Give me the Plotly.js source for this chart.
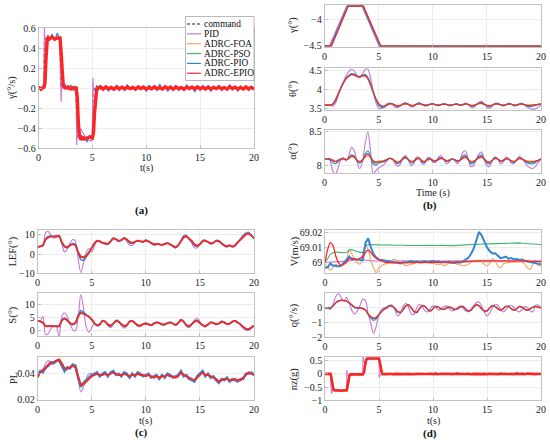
<!DOCTYPE html>
<html><head><meta charset="utf-8">
<script src="https://cdn.plot.ly/plotly-3.0.1.min.js"></script>
<style>html,body{margin:0;padding:0;background:#fff}#chart{width:550px;height:444px}</style>
</head><body><div id="chart"></div>
<script>
// ---------- names ----------
const seriesNames=['PID','ADRC-FOA','ADRC-PSO','ADRC-PIO','ADRC-EPIO'];
const commandName='command';
const xTicks=[0,5,10,15,20];

// ---------- common time grid (0.25 s) ----------
const T=[0,0.25,0.5,0.75,1,1.25,1.5,1.75,2,2.25,
2.5,2.75,3,3.25,3.5,3.75,4,4.25,4.5,4.75,
5,5.25,5.5,5.75,6,6.25,6.5,6.75,7,7.25,
7.5,7.75,8,8.25,8.5,8.75,9,9.25,9.5,9.75,
10,10.25,10.5,10.75,11,11.25,11.5,11.75,12,12.25,
12.5,12.75,13,13.25,13.5,13.75,14,14.25,14.5,14.75,
15,15.25,15.5,15.75,16,16.25,16.5,16.75,17,17.25,
17.5,17.75,18,18.25,18.5,18.75,19,19.25,19.5,19.75,
20];

// ---------- (a) roll-rate command tracking ----------
const aCmdT=[0,0.5,0.55,0.7,2,2.05,2.3,3.5,3.55,5,5.05,5.3,20];
const aCmd=[0,0,0.45,0.5,0.5,0.03,0,0,-0.5,-0.5,-0.03,0,0];
const aPidT=[0,0.5,0.55,0.6,0.7,0.85,1,2,2.05,2.1,2.15,2.4,3.5,3.55,3.6,3.7,3.9,4.2,4.5,4.9,5,5.05,5.1,5.3,20];
const aPid=[0,0,0.6,0.44,0.45,0.47,0.5,0.5,0.03,-0.14,0.02,0,0,-0.57,-0.42,-0.4,-0.41,-0.46,-0.52,-0.53,-0.5,0.1,-0.03,0,0];
const aFoaT=[0,0.6,0.7,0.8,0.9,2,2.1,2.2,2.3,2.4,3.5,3.6,3.7,3.8,3.9,5,5.1,5.2,5.3,5.4,20];
const aFoa=[0,0,0.3,0.47,0.5,0.5,0.34,0.11,0.02,0,0,-0.1,-0.36,-0.48,-0.5,-0.5,-0.44,-0.23,-0.07,-0.01,0];
const aPso=[0,0.01,0.31,0.48,0.5,0.5,0.33,0.1,0.02,0,0,-0.11,-0.36,-0.49,-0.5,-0.5,-0.43,-0.22,-0.06,0,0];
const aT=[0,0.25,0.5,0.6,0.7,0.8,0.9,1,1.25,1.5,
1.75,2,2.1,2.2,2.3,2.5,2.75,3,3.25,3.5,
3.6,3.7,3.8,3.9,4,4.25,4.5,4.75,5,5.1,
5.2,5.3,5.4,5.5,
5.75,6,6.25,6.5,6.75,7,7.25,7.5,7.75,8,
8.25,8.5,8.75,9,9.25,9.5,9.75,10,10.25,10.5,
10.75,11,11.25,11.5,11.75,12,12.25,12.5,12.75,13,
13.25,13.5,13.75,14,14.25,14.5,14.75,15,15.25,15.5,
15.75,16,16.25,16.5,16.75,17,17.25,17.5,17.75,18,
18.25,18.5,18.75,19,19.25,19.5,19.75,20];
const aPio=[0.02,-0.03,0.02,0.08,0.32,0.5,0.53,0.47,0.54,0.47,
0.55,0.48,0.3,0.08,0.05,0.03,-0.02,0.03,-0.03,0.01,
-0.12,-0.37,-0.52,-0.47,-0.53,-0.48,-0.54,-0.47,-0.52,-0.42,
-0.2,-0.04,0.03,-0.03,
0.03,-0.025,0.02,-0.035,0.015,-0.02,0.03,-0.03,0.01,-0.025,
0.035,-0.015,0.02,-0.03,0.025,-0.02,0.015,-0.035,0.03,-0.01,
0.02,-0.03,0.04,-0.02,0.015,-0.035,0.025,-0.015,0.03,-0.025,
0.01,-0.03,0.035,-0.02,0.02,-0.04,0.015,-0.025,0.03,-0.015,
0.025,-0.035,0.02,-0.01,0.03,-0.03,0.015,-0.025,0.035,-0.02,
0.01,-0.035,0.025,-0.015,0.02,-0.03,0.015,-0.02];
const aEpio=[0.005,-0.01,0.01,0.05,0.3,0.47,0.5,0.49,0.51,0.49,
0.5,0.5,0.35,0.12,0.02,0,0.01,-0.01,0.005,0,
-0.1,-0.35,-0.48,-0.5,-0.49,-0.51,-0.5,-0.49,-0.5,-0.45,
-0.25,-0.08,-0.01,0,
0.01,-0.01,0.012,-0.008,0.005,-0.012,0.01,-0.005,0.008,-0.01,
0.012,-0.006,0.004,-0.011,0.009,-0.004,0.01,-0.012,0.006,-0.008,
0.011,-0.007,0.003,-0.01,0.012,-0.005,0.007,-0.011,0.009,-0.006,
0.004,-0.012,0.01,-0.004,0.008,-0.009,0.012,-0.007,0.005,-0.01,
0.009,-0.012,0.006,-0.005,0.011,-0.008,0.004,-0.01,0.012,-0.006,
0.008,-0.011,0.005,-0.009,0.01,-0.007,0.006,-0.01];

// ---------- (b) gamma ----------
const gPidT=[0,0.45,2.05,3.45,5.05,10,15,20];
const gPid=[-4.5,-4.5,-3.75,-3.75,-4.503,-4.506,-4.508,-4.512];
const gFoaT=[0,0.62,2.18,3.58,5.18,20];
const gFoa=[-4.5,-4.5,-3.75,-3.75,-4.5,-4.503];
const gPsoT=[0,0.6,2.15,3.55,5.15,20];
const gPso=[-4.5,-4.5,-3.75,-3.75,-4.5,-4.503];
const gPioT=[0,0.55,2.12,3.52,5.12,20];
const gPio=[-4.5,-4.5,-3.75,-3.75,-4.5,-4.503];
const gEpioT=[0,0.65,2.2,3.6,5.2,20];
const gEpio=[-4.5,-4.5,-3.75,-3.75,-4.5,-4.503];

// ---------- (b) theta ----------
const thPid=[3.58,3.58,3.57,3.55,3.62,3.82,4.02,4.20,4.36,4.47,
4.52,4.48,4.36,4.30,4.40,4.52,4.53,4.30,3.95,3.65,
3.50,3.49,3.55,3.61,3.63,3.60,3.53,3.51,3.55,3.62,
3.64,3.59,3.53,3.54,3.61,3.64,3.59,3.55,3.56,3.61,
3.62,3.58,3.56,3.59,3.62,3.60,3.56,3.57,3.60,3.61,
3.57,3.58,3.63,3.60,3.53,3.52,3.58,3.65,3.68,3.62,
3.53,3.50,3.55,3.62,3.63,3.58,3.55,3.58,3.63,3.61,
3.56,3.57,3.62,3.63,3.57,3.52,3.49,3.47,3.48,3.53,
3.57];
const thFoa=[3.58,3.58,3.58,3.60,3.71,3.87,4.03,4.17,4.28,4.35,
4.38,4.37,4.34,4.33,4.35,4.35,4.28,4.12,3.92,3.74,
3.61,3.56,3.55,3.58,3.60,3.60,3.58,3.57,3.58,3.60,
3.61,3.60,3.58,3.58,3.60,3.61,3.60,3.58,3.58,3.60,
3.60,3.59,3.58,3.59,3.60,3.60,3.58,3.58,3.60,3.60,
3.58,3.59,3.61,3.60,3.58,3.58,3.59,3.61,3.62,3.60,
3.58,3.57,3.58,3.60,3.61,3.59,3.58,3.59,3.60,3.60,
3.58,3.58,3.60,3.60,3.59,3.58,3.58,3.58,3.59,3.60,
3.60];
const thPso=[3.58,3.58,3.58,3.61,3.72,3.88,4.04,4.18,4.29,4.36,
4.39,4.38,4.34,4.33,4.36,4.36,4.27,4.10,3.90,3.72,
3.60,3.55,3.55,3.58,3.61,3.61,3.58,3.56,3.57,3.60,
3.62,3.60,3.57,3.57,3.60,3.62,3.60,3.58,3.58,3.60,
3.61,3.59,3.58,3.59,3.61,3.60,3.58,3.58,3.60,3.61,
3.58,3.59,3.61,3.60,3.57,3.57,3.60,3.62,3.63,3.60,
3.57,3.56,3.58,3.61,3.61,3.59,3.58,3.59,3.61,3.60,
3.58,3.58,3.60,3.61,3.59,3.58,3.58,3.58,3.59,3.60,
3.61];
const thPio=[3.58,3.58,3.58,3.59,3.68,3.85,4.02,4.17,4.29,4.37,
4.41,4.40,4.35,4.33,4.37,4.39,4.32,4.15,3.93,3.72,
3.58,3.52,3.52,3.57,3.62,3.62,3.57,3.54,3.56,3.61,
3.63,3.60,3.56,3.56,3.61,3.63,3.60,3.57,3.57,3.60,
3.62,3.59,3.57,3.59,3.61,3.60,3.57,3.58,3.60,3.61,
3.58,3.58,3.62,3.60,3.56,3.55,3.59,3.63,3.65,3.61,
3.56,3.54,3.57,3.61,3.62,3.59,3.57,3.58,3.62,3.61,
3.57,3.57,3.61,3.62,3.59,3.55,3.54,3.55,3.57,3.59,
3.60];
const thEpio=[3.58,3.58,3.58,3.60,3.70,3.86,4.02,4.16,4.27,4.34,
4.38,4.37,4.33,4.32,4.35,4.35,4.28,4.13,3.93,3.75,
3.62,3.56,3.55,3.58,3.61,3.61,3.58,3.56,3.57,3.60,
3.62,3.60,3.57,3.57,3.60,3.61,3.60,3.58,3.58,3.60,
3.61,3.59,3.58,3.59,3.60,3.60,3.58,3.58,3.60,3.60,
3.58,3.59,3.61,3.60,3.57,3.57,3.59,3.62,3.63,3.60,
3.57,3.56,3.58,3.61,3.61,3.59,3.58,3.59,3.61,3.60,
3.58,3.58,3.60,3.61,3.59,3.57,3.57,3.58,3.59,3.60,
3.61];

// ---------- (b) alpha ----------
const alPid=[8.10,8.10,8.08,7.93,7.87,7.97,8.08,8.12,8.07,8.15,
8.27,8.22,8.06,7.96,8.05,8.32,8.50,8.22,7.88,7.93,
7.97,7.99,8.02,8.07,8.11,8.10,8.04,7.99,8.02,8.12,
8.15,8.08,8.00,8.04,8.13,8.12,8.03,8.03,8.12,8.12,
8.05,8.05,8.12,8.15,8.10,8.03,8.05,8.10,8.08,8.03,
8.08,8.19,8.22,8.12,7.99,8.00,8.08,8.17,8.20,8.10,
8.00,7.99,8.08,8.13,8.10,8.03,8.05,8.13,8.11,8.04,
8.03,8.09,8.14,8.11,8.05,8.00,7.97,7.96,7.99,8.05,
8.10];
const alFoa=[8.10,8.10,8.10,8.09,8.07,8.08,8.09,8.10,8.09,8.10,
8.13,8.12,8.09,8.07,8.08,8.12,8.14,8.12,8.08,8.06,
8.07,8.07,8.08,8.09,8.10,8.10,8.08,8.06,8.07,8.10,
8.11,8.09,8.07,8.07,8.09,8.10,8.08,8.07,8.08,8.09,
8.08,8.08,8.09,8.10,8.09,8.08,8.08,8.09,8.09,8.08,
8.08,8.10,8.12,8.10,8.07,8.07,8.09,8.11,8.12,8.10,
8.07,8.06,8.08,8.10,8.10,8.08,8.08,8.09,8.09,8.08,
8.07,8.08,8.10,8.09,8.08,8.07,8.07,8.07,8.07,8.08,
8.10];
const alPso=[8.10,8.10,8.10,8.08,8.06,8.08,8.10,8.10,8.09,8.11,
8.15,8.13,8.08,8.06,8.09,8.15,8.18,8.13,8.06,8.04,
8.06,8.07,8.07,8.09,8.11,8.10,8.07,8.05,8.07,8.11,
8.12,8.09,8.06,8.07,8.10,8.11,8.07,8.06,8.09,8.10,
8.08,8.07,8.09,8.11,8.10,8.07,8.08,8.10,8.09,8.07,
8.08,8.12,8.14,8.10,8.05,8.06,8.09,8.12,8.14,8.10,
8.06,8.05,8.08,8.11,8.10,8.07,8.08,8.10,8.10,8.07,
8.06,8.09,8.11,8.10,8.08,8.06,8.05,8.05,8.06,8.08,
8.10];
const alPio=[8.10,8.10,8.09,8.05,8.03,8.06,8.10,8.11,8.09,8.12,
8.16,8.14,8.07,8.04,8.08,8.17,8.22,8.14,8.03,8.01,
8.04,8.05,8.06,8.08,8.11,8.10,8.06,8.03,8.05,8.11,
8.13,8.09,8.04,8.05,8.11,8.11,8.05,8.05,8.10,8.11,
8.07,8.06,8.10,8.12,8.10,8.06,8.07,8.10,8.09,8.06,
8.08,8.14,8.16,8.10,8.03,8.04,8.09,8.14,8.16,8.10,
8.04,8.03,8.08,8.12,8.10,8.06,8.07,8.11,8.10,8.06,
8.05,8.09,8.12,8.10,8.07,8.04,8.03,8.03,8.05,8.08,
8.10];
const alEpio=[8.10,8.10,8.10,8.08,8.06,8.08,8.10,8.10,8.09,8.11,
8.14,8.13,8.08,8.06,8.08,8.14,8.17,8.13,8.07,8.05,
8.06,8.06,8.07,8.09,8.11,8.10,8.07,8.05,8.07,8.10,
8.12,8.09,8.06,8.07,8.10,8.11,8.07,8.06,8.09,8.10,
8.08,8.07,8.09,8.11,8.10,8.07,8.08,8.10,8.09,8.07,
8.08,8.11,8.13,8.10,8.06,8.06,8.09,8.12,8.13,8.10,
8.06,8.05,8.08,8.11,8.10,8.07,8.08,8.10,8.10,8.07,
8.06,8.08,8.11,8.10,8.08,8.06,8.06,8.06,8.07,8.08,
8.10];

// ---------- (c) LEF ----------
const lefPid=[3.7,3.8,4.0,11.0,11.5,9.5,8.3,8.5,9.5,5.0,
1.0,2.5,5.5,7.5,6.5,-2.0,-9.5,-4.5,0.7,2.8,
1.0,4.0,6.8,6.8,5.5,5.0,4.8,6.5,8.3,7.8,
6.5,7.0,8.0,6.5,4.5,4.5,5.8,7.0,6.8,6.0,
7.2,6.8,5.5,4.5,4.8,5.0,4.5,5.2,5.8,5.0,
3.8,3.0,4.2,7.0,9.5,9.8,7.8,5.5,3.2,3.2,
5.0,7.0,7.2,6.0,5.0,5.5,7.0,7.0,5.5,4.0,
3.5,4.2,3.5,4.0,5.8,7.8,9.8,11.0,11.3,9.8,
8.0];
const lefFoa=[3.5,4.0,4.5,7.5,8.6,9.0,9.0,9.2,9.3,6.0,
4.0,3.5,4.5,5.0,4.5,1.0,-1.4,-1.7,-0.8,0.7,
3.2,5.5,6.8,6.5,5.8,5.5,5.2,6.5,8.0,7.5,
6.8,7.2,8.2,7.5,6.3,5.8,6.2,6.8,6.5,6.3,
7.0,6.5,5.8,5.0,5.2,5.0,4.7,5.2,5.5,5.0,
4.2,3.5,4.5,6.5,8.5,9.0,8.0,6.8,5.0,4.2,
5.0,6.5,6.8,6.2,5.5,5.8,6.8,6.5,5.5,4.5,
4.0,4.5,3.8,4.5,6.0,7.5,9.0,10.0,10.5,9.5,
8.0];
const lefPso=[3.5,4.0,4.5,7.6,8.7,9.1,9.0,9.2,9.3,6.0,
3.9,3.4,4.5,5.1,4.6,1.2,-1.0,-1.5,-0.4,1.2,
3.4,5.6,6.9,6.5,5.7,5.5,5.2,6.6,8.1,7.5,
6.8,7.2,8.3,7.5,6.2,5.8,6.2,6.9,6.6,6.3,
7.1,6.5,5.8,5.0,5.2,5.1,4.7,5.2,5.6,5.0,
4.2,3.5,4.5,6.6,8.6,9.1,8.0,6.7,5.0,4.2,
5.0,6.6,6.9,6.2,5.5,5.8,6.9,6.6,5.5,4.5,
4.0,4.5,3.8,4.5,6.1,7.6,9.1,10.1,10.6,9.5,
8.0];
const lefPio=[3.6,4.0,4.4,7.8,9.0,9.2,8.8,9.0,9.3,5.8,
3.6,3.2,4.6,5.4,4.8,0.5,-2.8,-3.2,-1.5,0.8,
3.0,5.2,6.8,6.6,5.6,5.3,5.0,6.6,8.2,7.6,
6.6,7.1,8.2,7.2,5.8,5.5,6.2,6.9,6.6,6.2,
7.1,6.6,5.6,4.8,5.0,5.0,4.6,5.2,5.6,5.0,
4.0,3.3,4.4,6.8,8.9,9.3,7.9,6.3,4.4,4.0,
5.0,6.8,7.0,6.1,5.3,5.7,6.9,6.7,5.5,4.3,
3.8,4.4,3.7,4.3,6.0,7.6,9.3,10.4,10.8,9.6,
8.0];
const lefEpio=[3.5,4.0,4.5,7.5,8.5,9.0,9.0,9.2,9.3,6.0,
4.0,3.5,4.5,5.0,4.5,1.0,-1.5,-1.8,-1.0,0.5,
3.0,5.5,6.8,6.5,5.8,5.5,5.2,6.5,8.0,7.5,
6.8,7.2,8.2,7.5,6.3,5.8,6.2,6.8,6.5,6.3,
7.0,6.5,5.8,5.0,5.2,5.0,4.7,5.2,5.5,5.0,
4.2,3.5,4.5,6.5,8.5,9.0,8.0,6.8,5.0,4.2,
5.0,6.5,6.8,6.2,5.5,5.8,6.8,6.5,5.5,4.5,
4.0,4.5,3.8,4.5,6.0,7.5,9.0,10.0,10.5,9.5,
8.0];

// ---------- (c) S ----------
const sPid=[3.8,3.7,5.5,-1.5,-1.0,1.0,2.0,1.5,-2.2,5.5,
7.0,5.5,2.5,0.5,0.0,5.0,14.0,9.0,1.5,-0.5,
1.0,3.0,2.0,2.0,4.0,3.8,2.0,1.2,2.5,4.2,
3.8,2.0,1.0,1.8,3.8,4.0,2.8,1.8,1.6,2.4,
3.0,2.6,2.0,2.6,3.4,3.2,2.3,2.2,3.0,3.4,
2.8,2.0,2.8,4.5,3.8,1.8,1.2,2.4,4.2,4.8,
3.6,2.2,1.4,2.2,3.4,3.2,2.4,2.6,3.7,3.5,
2.6,2.5,3.5,4.0,3.3,2.2,1.0,0.2,0.2,1.0,
2.0];
const sFoa=[3.8,3.7,3.2,1.8,1.8,1.9,1.7,1.8,1.8,4.0,
4.7,4.0,3.0,2.5,3.0,5.5,7.0,6.5,6.0,5.5,
4.5,3.0,2.2,2.5,3.8,3.5,2.5,2.0,2.8,3.8,
3.5,2.5,1.8,2.2,3.5,3.8,3.0,2.2,2.0,2.6,
2.8,2.5,2.2,2.8,3.2,3.0,2.5,2.5,3.0,3.2,
2.8,2.3,3.0,4.2,3.5,2.2,1.8,2.5,3.5,3.8,
3.0,2.2,1.8,2.5,3.2,3.0,2.5,2.8,3.5,3.2,
2.6,2.8,3.5,3.8,3.2,2.5,1.5,0.8,0.6,1.2,
2.0];
const sPso=[3.8,3.7,3.1,1.9,1.8,1.9,1.8,1.9,1.8,4.1,
4.8,4.1,3.1,2.6,3.1,5.6,7.2,6.7,6.1,5.5,
4.4,3.0,2.3,2.6,3.9,3.6,2.6,2.1,2.9,3.9,
3.6,2.6,1.9,2.3,3.6,3.9,3.1,2.3,2.1,2.7,
2.9,2.6,2.3,2.9,3.3,3.1,2.6,2.6,3.1,3.3,
2.9,2.4,3.1,4.3,3.6,2.3,1.9,2.6,3.6,3.9,
3.1,2.3,1.9,2.6,3.3,3.1,2.6,2.9,3.6,3.3,
2.7,2.9,3.6,3.9,3.3,2.6,1.6,0.9,0.7,1.3,
2.1];
const sPio=[3.8,3.6,3.3,1.7,1.7,1.8,1.7,1.8,1.6,4.2,
5.0,4.2,2.9,2.3,2.9,6.0,7.8,7.2,6.2,5.4,
4.2,2.8,2.0,2.4,3.9,3.6,2.3,1.8,2.7,3.9,
3.6,2.4,1.6,2.1,3.6,3.9,2.9,2.0,1.9,2.6,
2.9,2.5,2.1,2.8,3.3,3.0,2.4,2.4,3.0,3.3,
2.8,2.2,3.0,4.3,3.6,2.0,1.6,2.5,3.7,4.0,
3.1,2.1,1.7,2.4,3.3,3.1,2.5,2.8,3.6,3.3,
2.6,2.8,3.6,3.9,3.2,2.4,1.3,0.6,0.5,1.1,
2.0];
const sEpio=[3.8,3.7,3.1,1.8,1.8,1.9,1.7,1.8,1.8,4.0,
4.7,4.0,3.0,2.5,3.0,5.5,7.0,6.5,6.0,5.5,
4.5,3.0,2.2,2.5,3.8,3.5,2.5,2.0,2.8,3.8,
3.5,2.5,1.8,2.2,3.5,3.8,3.0,2.2,2.0,2.6,
2.8,2.5,2.2,2.8,3.2,3.0,2.5,2.5,3.0,3.2,
2.8,2.3,3.0,4.2,3.5,2.2,1.8,2.5,3.5,3.8,
3.0,2.2,1.8,2.5,3.2,3.0,2.5,2.8,3.5,3.2,
2.6,2.8,3.5,3.8,3.2,2.5,1.5,0.8,0.6,1.2,
2.0];

// ---------- (c) PL ----------
const plPid=[0.038,0.041,0.043,0.048,0.050,0.047,0.048,0.049,0.051,0.047,
0.043,0.043,0.045,0.047,0.047,0.037,0.026,0.030,0.036,0.040,
0.040,0.039,0.040,0.039,0.039,0.040,0.039,0.040,0.041,0.040,
0.039,0.039,0.040,0.039,0.038,0.039,0.039,0.040,0.039,0.039,
0.038,0.039,0.038,0.037,0.038,0.037,0.038,0.038,0.039,0.038,
0.038,0.037,0.038,0.041,0.039,0.038,0.037,0.036,0.035,0.037,
0.039,0.041,0.039,0.039,0.038,0.037,0.036,0.034,0.035,0.036,
0.036,0.035,0.035,0.036,0.035,0.035,0.037,0.039,0.041,0.040,
0.039];
const plFoa=[0.037,0.041,0.043,0.044,0.047,0.048,0.049,0.050,0.051,0.048,
0.044,0.044,0.045,0.046,0.045,0.038,0.032,0.032,0.034,0.036,
0.038,0.039,0.040,0.039,0.039,0.040,0.039,0.040,0.041,0.040,
0.039,0.039,0.040,0.039,0.038,0.039,0.039,0.040,0.039,0.039,
0.038,0.039,0.038,0.037,0.038,0.037,0.038,0.038,0.039,0.038,
0.038,0.037,0.038,0.041,0.039,0.038,0.037,0.036,0.035,0.037,
0.039,0.041,0.039,0.039,0.038,0.037,0.036,0.034,0.035,0.036,
0.036,0.035,0.035,0.036,0.035,0.035,0.037,0.039,0.041,0.040,
0.039];
const plPso=[0.037,0.041,0.043,0.045,0.047,0.048,0.049,0.050,0.051,0.048,
0.044,0.044,0.045,0.046,0.045,0.038,0.031,0.032,0.034,0.037,
0.038,0.039,0.040,0.039,0.039,0.040,0.039,0.040,0.041,0.040,
0.039,0.039,0.040,0.039,0.038,0.039,0.039,0.040,0.039,0.039,
0.038,0.039,0.038,0.037,0.038,0.037,0.038,0.038,0.039,0.038,
0.038,0.037,0.038,0.041,0.039,0.038,0.037,0.036,0.035,0.037,
0.039,0.041,0.039,0.039,0.038,0.037,0.036,0.034,0.035,0.036,
0.036,0.035,0.035,0.036,0.035,0.035,0.037,0.039,0.041,0.040,
0.039];
const plPio=[0.039,0.042,0.041,0.045,0.046,0.049,0.048,0.050,0.050,0.046,
0.042,0.045,0.044,0.047,0.046,0.037,0.030,0.033,0.035,0.037,
0.039,0.040,0.041,0.038,0.040,0.041,0.038,0.041,0.042,0.039,
0.040,0.038,0.041,0.040,0.037,0.040,0.038,0.041,0.040,0.038,
0.039,0.040,0.037,0.038,0.039,0.036,0.039,0.037,0.040,0.039,
0.037,0.038,0.039,0.042,0.038,0.039,0.036,0.035,0.034,0.038,
0.040,0.042,0.038,0.040,0.037,0.038,0.035,0.033,0.036,0.035,
0.037,0.034,0.036,0.035,0.034,0.036,0.036,0.040,0.040,0.041,
0.039];
const plEpio=[0.037,0.041,0.043,0.044,0.047,0.048,0.0495,0.050,0.051,0.048,
0.044,0.044,0.045,0.046,0.045,0.039,0.0315,0.032,0.034,0.036,
0.038,0.039,0.040,0.039,0.039,0.040,0.039,0.040,0.041,0.040,
0.039,0.039,0.040,0.039,0.038,0.039,0.039,0.040,0.039,0.039,
0.038,0.039,0.038,0.037,0.038,0.037,0.038,0.038,0.039,0.038,
0.038,0.037,0.038,0.041,0.039,0.038,0.037,0.036,0.035,0.037,
0.039,0.041,0.039,0.039,0.038,0.037,0.036,0.034,0.035,0.036,
0.036,0.035,0.035,0.036,0.035,0.035,0.037,0.039,0.041,0.040,
0.039];

// ---------- (d) V ----------
const vPid=[69.0,69.0002,69.0004,69.0005,69.0006,69.0007,69.0008,69.0009,69.001,69.0012,
69.0015,69.0018,69.002,69.002,69.0018,69.0016,69.0015,69.0013,69.0012,69.0011,
69.0011,69.0011,69.0012,69.0012,69.0012,69.0011,69.0011,69.0012,69.0012,69.0012,
69.0012,69.0012,69.0011,69.0011,69.0012,69.0012,69.0012,69.0012,69.0011,69.0012,
69.0012,69.0012,69.0012,69.0011,69.0011,69.0012,69.0012,69.0012,69.0012,69.0012,
69.0012,69.0012,69.0013,69.0013,69.0012,69.0012,69.0012,69.0013,69.0013,69.0012,
69.0012,69.0012,69.0012,69.0013,69.0013,69.0012,69.0012,69.0012,69.0012,69.0013,
69.0013,69.0012,69.0012,69.0012,69.0012,69.0012,69.0011,69.0011,69.0012,69.0012,
69.0012];
const vFoa=[68.999,68.9967,68.995,68.997,68.999,68.998,68.9984,68.999,69.002,69.0084,
69.0055,69.002,69.000,68.999,69.0055,69.011,69.0088,69.0011,68.9967,68.9934,
68.9967,68.998,68.999,68.9995,69.000,69.002,69.002,69.001,69.000,68.999,
68.998,68.9985,68.999,68.9995,69.0004,69.001,69.0011,69.0005,69.0,68.9995,
68.9995,68.999,68.9988,68.999,68.9982,68.9985,68.9995,69.0,68.9998,68.999,
68.9985,68.998,68.9982,68.999,69.0,69.001,69.0011,69.0008,69.0004,68.999,
68.998,68.9995,69.0026,69.0011,68.9978,68.9967,68.999,69.0,69.0,69.0003,
69.0004,69.0004,69.0004,69.0003,68.999,68.9967,68.9956,68.999,69.0,68.9982,
68.998];
const vPso=[69.000,69.003,69.0055,69.0065,69.007,69.0068,69.0066,69.0066,69.0068,69.0084,
69.0085,69.0078,69.007,69.0068,69.0068,69.011,69.012,69.0118,69.0117,69.0117,
69.0117,69.0116,69.0117,69.0116,69.0117,69.0115,69.0116,69.0115,69.0114,69.0115,
69.0114,69.0113,69.0112,69.0113,69.0112,69.0113,69.0113,69.0114,69.0113,69.0114,
69.0115,69.0114,69.0113,69.0114,69.0113,69.0112,69.0113,69.0112,69.0112,69.0114,
69.0115,69.0117,69.012,69.0121,69.0122,69.0124,69.0125,69.0124,69.0125,69.0126,
69.0125,69.0124,69.0125,69.0126,69.0125,69.0127,69.0128,69.0129,69.013,69.013,
69.0129,69.013,69.013,69.0128,69.0127,69.0126,69.0125,69.0123,69.012,69.012,
69.012];
const vPio=[68.9967,68.997,68.9995,68.998,68.998,68.9975,68.998,69.000,69.0018,69.004,
69.002,69.0025,69.002,69.0015,69.0015,69.013,69.016,69.010,69.0055,69.0033,
69.002,69.0018,69.0015,69.0012,69.001,69.0005,69.000,68.9998,68.9995,69.0003,
69.000,69.0006,69.001,69.0004,69.0008,69.0002,69.0005,69.0009,69.0003,69.0007,
69.001,69.0004,69.0008,69.0002,69.0005,69.0001,69.0004,69.0,68.9998,69.0002,
69.0,69.0008,69.002,69.003,69.0055,69.009,69.0143,69.0202,69.018,69.0143,
69.010,69.0077,69.006,69.0062,69.0044,69.003,69.0034,69.004,69.0026,69.003,
69.0022,69.0024,69.0018,69.002,69.0012,69.0008,69.0,68.9996,68.9994,68.9992,
68.999];
const vEpio=[69.000,69.0088,69.0132,69.011,69.0044,69.000,68.998,68.999,69.0003,69.0026,
69.0028,69.0022,69.002,69.003,69.004,69.0066,69.0084,69.0066,69.0044,69.003,
69.002,69.0012,69.0004,69.0002,69.0,68.9998,69.0,69.0002,69.0,69.0001,
69.0002,69.0,68.9999,69.0001,69.0002,69.0001,69.0,69.0002,69.0003,69.0002,
69.0003,69.0002,69.0001,69.0003,69.0004,69.0003,69.0002,69.0003,69.0004,69.0005,
69.0004,69.0005,69.0006,69.0007,69.0008,69.001,69.001,69.0012,69.0012,69.0011,
69.001,69.0011,69.0012,69.0012,69.0011,69.001,69.0011,69.0012,69.0011,69.001,
69.001,69.0011,69.0012,69.0011,69.001,69.0009,69.0008,69.0009,69.0008,69.0007,
69.0006];

// ---------- (d) q ----------
const qPid=[0,0,-0.1,0.25,0.8,0.98,0.7,0.48,0.7,0.32,
-0.2,-0.43,-0.2,0.18,0.6,0.5,-0.43,-1.1,-1.73,-1.23,
-0.43,-0.1,0.0,-0.05,0.18,0.18,-0.2,-0.55,-0.36,0.14,
0.32,0.02,-0.43,-0.43,0.02,0.25,0.09,-0.2,-0.27,-0.05,
0.14,0.07,-0.14,-0.09,0.09,0.14,-0.05,-0.2,-0.14,0.02,
0.14,0.02,-0.2,-0.27,-0.09,0.14,0.36,0.41,0.14,-0.27,
-0.55,-0.36,0.02,0.25,0.18,-0.09,-0.27,-0.14,0.09,0.18,
0.02,-0.2,-0.27,-0.09,0.09,0.02,-0.2,-0.27,0.18,0.2,
0.02];
const qFoa=[0,0,0,0.15,0.36,0.49,0.52,0.50,0.44,0.34,
0.19,0.05,0.0,0.0,-0.05,-0.16,-0.41,-0.61,-0.70,-0.64,
-0.44,-0.24,-0.09,0.05,0.14,0.10,-0.05,-0.24,-0.29,-0.10,
0.14,0.19,0.0,-0.24,-0.29,-0.05,0.14,0.10,-0.10,-0.19,
-0.05,0.09,0.05,-0.05,-0.10,0.0,0.05,0.0,-0.10,-0.05,
0.05,0.09,-0.05,-0.19,-0.15,0.05,0.19,0.14,-0.05,-0.19,
-0.19,0.0,0.14,0.10,-0.05,-0.14,-0.05,0.09,0.10,-0.05,
-0.14,-0.05,0.09,0.05,-0.09,-0.14,-0.05,0.05,0.09,0.05,
0.0];
const qPso=[0,0,0,0.16,0.36,0.49,0.53,0.51,0.45,0.34,
0.19,0.05,0.0,0.0,-0.05,-0.17,-0.43,-0.64,-0.74,-0.66,
-0.44,-0.23,-0.08,0.06,0.14,0.09,-0.06,-0.26,-0.30,-0.09,
0.15,0.19,-0.01,-0.25,-0.29,-0.05,0.14,0.09,-0.10,-0.20,
-0.06,0.09,0.04,-0.06,-0.11,-0.01,0.04,-0.01,-0.11,-0.06,
0.04,0.09,-0.06,-0.20,-0.16,0.04,0.19,0.14,-0.06,-0.20,
-0.20,-0.01,0.14,0.09,-0.06,-0.15,-0.06,0.09,0.09,-0.06,
-0.15,-0.06,0.09,0.04,-0.10,-0.15,-0.06,0.04,0.09,0.04,
0.0];
const qPio=[0,0,0,0.14,0.34,0.47,0.52,0.51,0.46,0.34,
0.17,0.02,-0.02,0.0,-0.03,-0.15,-0.45,-0.72,-0.85,-0.75,
-0.48,-0.22,-0.05,0.08,0.17,0.10,-0.08,-0.30,-0.33,-0.08,
0.18,0.22,-0.02,-0.28,-0.33,-0.04,0.18,0.12,-0.12,-0.24,
-0.06,0.12,0.06,-0.06,-0.12,0.01,0.07,0.0,-0.12,-0.07,
0.06,0.12,-0.06,-0.22,-0.17,0.06,0.23,0.17,-0.06,-0.23,
-0.22,0.01,0.17,0.11,-0.06,-0.17,-0.06,0.11,0.12,-0.06,
-0.17,-0.06,0.11,0.06,-0.11,-0.17,-0.06,0.06,0.12,0.06,
0.0];
const qEpio=[0,0,0,0.15,0.35,0.48,0.52,0.50,0.45,0.35,
0.20,0.05,0.0,0.0,-0.05,-0.15,-0.40,-0.60,-0.70,-0.65,
-0.45,-0.25,-0.10,0.05,0.15,0.10,-0.05,-0.25,-0.30,-0.10,
0.15,0.20,0.0,-0.25,-0.30,-0.05,0.15,0.10,-0.10,-0.20,
-0.05,0.10,0.05,-0.05,-0.10,0.0,0.05,0.0,-0.10,-0.05,
0.05,0.10,-0.05,-0.20,-0.15,0.05,0.20,0.15,-0.05,-0.20,
-0.20,0.0,0.15,0.10,-0.05,-0.15,-0.05,0.10,0.10,-0.05,
-0.15,-0.05,0.10,0.05,-0.10,-0.15,-0.05,0.05,0.10,0.05,
0.0];

// ---------- (d) nz ----------
const nzPidT=[0,0.5,0.55,0.6,0.7,0.8,1,2,2.02,2.08,2.15,2.3,3.5,3.52,3.58,3.65,3.75,4,4.3,5,5.02,5.08,5.15,5.3,20];
const nzPid=[-0.01,-0.01,-0.4,-0.75,-0.62,-0.6,-0.62,-0.62,0.15,-0.05,-0.04,-0.03,-0.03,0.7,0.5,0.44,0.46,0.55,0.58,0.58,-0.15,-0.05,-0.04,-0.02,-0.01];
const nzFoaT=[0,0.5,0.6,0.7,0.8,0.9,2,2.1,2.2,2.3,2.4,3.5,3.6,3.7,3.8,3.9,5,5.1,5.2,5.3,5.4,20];
const nzFoa=[0,0,-0.1,-0.4,-0.58,-0.62,-0.62,-0.5,-0.2,-0.05,-0.02,-0.02,0.08,0.35,0.53,0.58,0.58,0.45,0.2,0.04,-0.01,-0.01];
const nzPso=[0,0,-0.12,-0.42,-0.59,-0.63,-0.63,-0.52,-0.22,-0.06,-0.02,-0.02,0.09,0.37,0.54,0.58,0.58,0.44,0.18,0.03,-0.01,-0.01];
const nzT=[0,0.25,0.5,0.55,0.65,0.75,0.85,1,1.25,1.5,
1.75,2,2.05,2.15,2.25,2.35,2.5,2.75,3,3.25,
3.5,3.6,3.7,3.8,3.9,4,4.25,4.5,4.75,5,
5.05,5.15,5.25,5.35,5.5,
5.75,6,6.25,6.5,6.75,7,7.25,7.5,7.75,8,
8.25,8.5,8.75,9,9.25,9.5,9.75,10,10.25,10.5,
10.75,11,11.25,11.5,11.75,12,12.25,12.5,12.75,13,
13.25,13.5,13.75,14,14.25,14.5,14.75,15,15.25,15.5,
15.75,16,16.25,16.5,16.75,17,17.25,17.5,17.75,18,
18.25,18.5,18.75,19,19.25,19.5,19.75,20];
const nzPio=[0.01,-0.02,0.01,-0.06,-0.32,-0.58,-0.6,-0.65,-0.6,-0.66,
-0.61,-0.64,-0.52,-0.28,-0.06,0,-0.04,0.01,-0.03,0,
-0.03,0.07,0.33,0.55,0.56,0.6,0.57,0.6,0.56,0.6,
0.48,0.22,0.03,0.01,-0.03,
0.01,-0.025,0.02,-0.01,0.015,-0.03,0.005,-0.02,0.02,-0.01,
0.01,-0.025,0.015,-0.02,0.005,-0.015,0.02,-0.03,0.045,-0.02,
0.01,-0.02,0.015,-0.03,0.025,-0.01,0.04,-0.015,0.005,-0.025,
0.02,-0.01,0.015,-0.03,0.01,-0.02,0.03,-0.015,0.02,-0.025,
0.01,-0.02,0.03,-0.01,0.015,-0.03,0.02,-0.015,0.05,-0.02,
0.03,-0.01,0.02,-0.025,0.015,-0.02,0.01,-0.015];
const nzEpio=[0,-0.01,0,-0.05,-0.3,-0.55,-0.62,-0.63,-0.62,-0.64,
-0.63,-0.63,-0.55,-0.3,-0.08,-0.02,-0.02,-0.02,-0.01,-0.02,
-0.02,0.05,0.3,0.52,0.58,0.58,0.59,0.58,0.59,0.58,
0.5,0.25,0.05,-0.01,-0.02,
-0.01,0.005,-0.015,0,-0.01,0.008,-0.012,-0.002,-0.01,0.006,
-0.014,0,-0.008,0.006,-0.012,-0.004,0.005,-0.01,0,-0.015,
0.004,-0.008,-0.002,0.006,-0.012,0,-0.006,0.008,-0.01,-0.004,
0.006,-0.012,0,-0.006,0.01,-0.008,0.002,-0.012,0.006,-0.004,
0.008,-0.01,0,-0.006,0.012,-0.004,0.004,-0.01,0.006,-0.008,
0.002,-0.012,0.01,-0.004,0.006,-0.01,0.004,-0.006];

// ================= drawing =================
const W=550,H=444;
const SERIF='Liberation Serif, Times New Roman, serif';
const col={cmd:'#1c1c3a',pid:'#c27dd1',foa:'#f5a55c',pso:'#3fb56d',pio:'#3385d6',epio:'#ff2424'};
const traces=[];
function L(ax,x,y,color,width,shape,dash){
  const k=ax===1?'':String(ax);
  traces.push({type:'scatter',mode:'lines',x:x,y:y,xaxis:'x'+k,yaxis:'y'+k,
    line:{color:color,width:width,shape:shape||'linear',dash:dash||'solid',smoothing:0.9},
    hoverinfo:'skip',showlegend:false});
}
// (a)
L(1,aCmdT,aCmd,col.cmd,1.2,'linear','4px,2px');
L(1,aPidT,aPid,col.pid,1.2);
L(1,aFoaT,aFoa,col.foa,1.5);
L(1,aFoaT,aPso,col.pso,1.5);
L(1,aT,aPio,col.pio,1.2);
L(1,aT,aEpio,col.epio,3.4);
// (b)
L(2,gPidT,gPid,col.pid,1.2); L(2,gFoaT,gFoa,col.foa,1.2); L(2,gPsoT,gPso,col.pso,1.2); L(2,gPioT,gPio,col.pio,1.2); L(2,gEpioT,gEpio,col.epio,1.3);
[[thPid,col.pid],[thFoa,col.foa],[thPso,col.pso],[thPio,col.pio],[thEpio,col.epio]].forEach(s=>L(3,T,s[0],s[1],1.15,'spline'));
[[alPid,col.pid],[alFoa,col.foa],[alPso,col.pso],[alPio,col.pio],[alEpio,col.epio]].forEach(s=>L(4,T,s[0],s[1],1.15,'spline'));
// (c)
L(5,T,lefPid,col.pid,1.1,'spline'); L(5,T,lefFoa,col.foa,1.1,'spline'); L(5,T,lefPso,col.pso,1.4,'spline'); L(5,T,lefPio,col.pio,1.5,'spline'); L(5,T,lefEpio,col.epio,1.7);
L(6,T,sPid,col.pid,1.1,'spline'); L(6,T,sFoa,col.foa,1.1,'spline'); L(6,T,sPso,col.pso,1.4,'spline'); L(6,T,sPio,col.pio,1.5,'spline'); L(6,T,sEpio,col.epio,1.7);
L(7,T,plPid,col.pid,1.1,'spline'); L(7,T,plFoa,col.foa,1.1); L(7,T,plPso,col.pso,1.2); L(7,T,plPio,col.pio,2.4); L(7,T,plEpio,col.epio,1.8);
// (d)
L(8,T,vPid,col.pid,1.1,'spline'); L(8,T,vFoa,col.foa,1.1,'spline'); L(8,T,vPso,col.pso,1.1); L(8,T,vPio,col.pio,2.0); L(8,T,vEpio,col.epio,1.3,'spline');
[[qPid,col.pid],[qFoa,col.foa],[qPso,col.pso],[qPio,col.pio],[qEpio,col.epio]].forEach(s=>L(9,T,s[0],s[1],1.15,'spline'));
L(10,nzPidT,nzPid,col.pid,1.1); L(10,nzFoaT,nzFoa,col.foa,1.2); L(10,nzFoaT,nzPso,col.pso,1.2); L(10,nzT,nzPio,col.pio,1.3); L(10,nzT,nzEpio,col.epio,2.6);

// axes boxes (pixel positions of the plot frames)
const panels=[
 {x:[38.5,254],y:[28,148],r:[-0.6,0.6],tv:[-0.6,-0.4,-0.2,0,0.2,0.4,0.6]},
 {x:[324.5,541],y:[5,46.7],r:[-4.515,-3.73],tv:[-4.5,-4]},
 {x:[324.5,541],y:[68.3,110],r:[3.45,4.55],tv:[3.5,4,4.5]},
 {x:[324.5,541],y:[130,173.3],r:[7.89,8.525],tv:[8,8.5]},
 {x:[37.5,254],y:[229.7,273.5],r:[-10.02,12.5],tv:[-10,0,10]},
 {x:[37.5,254],y:[293.3,336],r:[-2,14.5],tv:[0,5,10]},
 {x:[37.5,254],y:[356.7,400],r:[0.0199,0.053],tv:[0.02,0.04]},
 {x:[325,541],y:[229.7,273.3],r:[68.993,69.0217],tv:[69,69.01,69.02],tt:['69','69.01','69.02']},
 {x:[325,541],y:[293.3,337.3],r:[-2.01,1],tv:[-2,-1,0]},
 {x:[325,541],y:[356.7,400.5],r:[-1.01,0.65],tv:[-1,-0.5,0,0.5]}
];
const common={showline:true,mirror:true,linecolor:'#b3b3b3',linewidth:0.8,ticks:'inside',ticklen:3,
  tickcolor:'#b3b3b3',tickwidth:0.8,showgrid:true,gridcolor:'#e8e8e8',gridwidth:0.8,zeroline:false,
  tickfont:{family:SERIF,size:10,color:'#1a1a1a'},fixedrange:true,automargin:false,tickmode:'array'};
const layout={width:W,height:H,margin:{l:0,r:0,t:0,b:0,pad:0},paper_bgcolor:'#fff',plot_bgcolor:'#fff',
  showlegend:false,hovermode:false,annotations:[],shapes:[]};
panels.forEach((p,i)=>{
  const k=i===0?'':String(i+1);
  layout['xaxis'+k]=Object.assign({},common,{domain:[p.x[0]/W,p.x[1]/W],range:[0,20],tickvals:xTicks,anchor:'y'+k});
  const ya=Object.assign({},common,{domain:[1-p.y[1]/H,1-p.y[0]/H],range:p.r,tickvals:p.tv,anchor:'x'+k});
  if(p.tt) ya.ticktext=p.tt;
  layout['yaxis'+k]=ya;
});
function ann(text,px,py,opt){
  layout.annotations.push(Object.assign({text:text,x:px/W,y:1-py/H,xref:'paper',yref:'paper',showarrow:false,
    xanchor:'center',yanchor:'middle',font:{family:SERIF,size:10.5,color:'#262626'}},opt||{}));
}
// y-axis titles
[['γ̇(°/s)',12,88],['γ(°)',293,26],['θ(°)',293,89],['α(°)',293,151.7],
 ['LEF(°)',13,251.6],['S(°)',13,314.7],['PL',13,378.3],
 ['V(m/s)',294,251.5],['q(°/s)',294,315.3],['nz(g)',294,379.3]].forEach(a=>ann(a[0],a[1],a[2],{textangle:-90}));
// x-axis titles
[['t(s)',146.3,168],['Time (s)',432.7,193.5],['t(s)',145.7,420.5],['t(s)',433,420.5]].forEach(a=>ann(a[0],a[1],a[2],{font:{family:SERIF,size:10,color:'#262626'}}));
// panel letters
[['<b>(a)</b>',141,210],['<b>(b)</b>',430,206],['<b>(c)</b>',141,432],['<b>(d)</b>',430,433]].forEach(a=>ann(a[0],a[1],a[2],{font:{family:SERIF,size:11,color:'#111'}}));

// legend (panel a)
layout.shapes.push({type:'rect',xref:'paper',yref:'paper',x0:185.5/W,x1:254/W,y0:1-80.5/H,y1:1-16.5/H,
  line:{color:'#a8a8a8',width:0.8},fillcolor:'#ffffff',layer:'above'});
const legendItems=[[commandName,col.cmd,'3px,2px'],[seriesNames[0],col.pid,'solid'],[seriesNames[1],col.foa,'solid'],
  [seriesNames[2],col.pso,'solid'],[seriesNames[3],col.pio,'solid'],[seriesNames[4],col.epio,'solid']];
legendItems.forEach((it,i)=>{
  const py=24+i*9.85;
  layout.shapes.push({type:'line',xref:'paper',yref:'paper',x0:187/W,x1:201/W,y0:1-py/H,y1:1-py/H,
    line:{color:it[1],width:1.2,dash:it[2]},layer:'above'});
  ann(it[0],202,py,{xanchor:'left',font:{family:SERIF,size:9.4,color:'#111'}});
});

Plotly.newPlot('chart',traces,layout,{staticPlot:true,displayModeBar:false});
</script></body></html>
